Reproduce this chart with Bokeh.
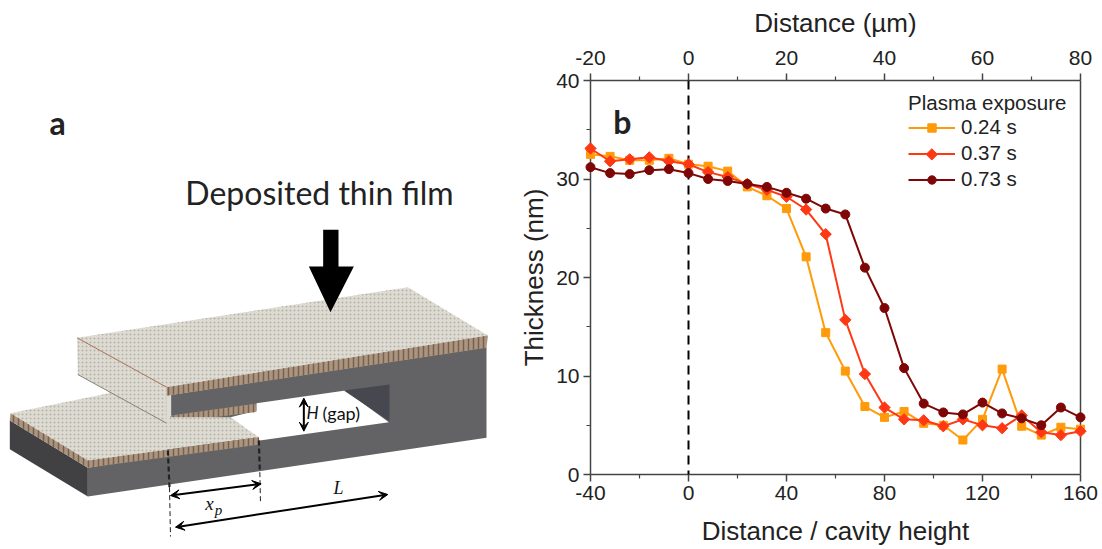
from math import pi
from bokeh.plotting import figure
from bokeh.layouts import row
from bokeh.models import (Range1d, LinearAxis, FixedTicker, Span, Label, Legend, LegendItem,
                          Arrow, VeeHead)
from bokeh.embed import file_html
from bokeh.resources import INLINE

# ---------- data ----------
distance_norm = [-40, -32, -24, -16, -8, 0, 8, 16, 24, 32, 40, 48, 56, 64, 72, 80, 88, 96, 104, 112, 120, 128, 136, 144, 152, 160]
t_024 = [32.5, 32.3, 31.9, 31.9, 32.1, 31.5, 31.3, 30.8, 29.2, 28.3, 27.0, 22.1, 14.4, 10.5, 6.9, 5.8, 6.4, 5.2, 5.0, 3.5, 5.6, 10.7, 4.9, 4.0, 4.8, 4.6]
t_037 = [33.1, 31.8, 32.0, 32.2, 31.8, 31.5, 30.7, 30.2, 29.5, 28.9, 28.2, 26.9, 24.4, 15.7, 10.2, 6.8, 5.6, 5.5, 4.9, 5.6, 5.0, 4.7, 6.0, 4.3, 4.0, 4.4]
t_073 = [31.2, 30.6, 30.5, 30.9, 31.0, 30.6, 30.0, 29.8, 29.5, 29.2, 28.6, 28.0, 27.0, 26.4, 21.0, 16.9, 10.8, 7.2, 6.3, 6.1, 7.3, 6.2, 5.7, 5.0, 6.8, 5.8]
legend_title = "Plasma exposure"
labels = ["0.24 s", "0.37 s", "0.73 s"]
bottom_ticks = [-40, 0, 40, 80, 120, 160]
bottom_minor = [-20, 20, 60, 100, 140]
top_ticks = [-20, 0, 20, 40, 60, 80]
top_minor = [-10, 10, 30, 50, 70]
left_ticks = [0, 10, 20, 30, 40]
left_minor = [5, 15, 25, 35]

SANS = "Liberation Sans"
CAL = "Lato"
INK = "#222222"

# ---------- panel a : schematic, in picture pixels ----------
a = figure(width=510, height=545, x_range=Range1d(0, 510), y_range=Range1d(545, 0),
           output_backend="svg", toolbar_location=None, min_border=0, frame_align=False,
           outline_line_color=None, background_fill_color="white", border_fill_color="white")
a.axis.visible = False
a.grid.visible = False


def Z(pts):
    return [p[0] / 3 for p in pts], [220 + p[1] / 3 for p in pts]


def poly(pts, color, **kw):
    xs, ys = Z(pts)
    a.patch(xs, ys, fill_color=color, line_color=kw.pop("line_color", None), **kw)


FACE = "#dedbd2"
BAND = "#ab9580"
GREY = "#636366"
DOTS = dict(hatch_pattern="dot", hatch_color="#b5b2a8", hatch_scale=4, hatch_weight=1.2)
STRIPES = dict(hatch_pattern="vertical_line", hatch_color="#75614e", hatch_scale=5, hatch_weight=1.5)

poly([(498, 525), (1458, 380), (1458, 652), (262, 828), (262, 742), (498, 700)], GREY)
poly([(690, 590), (768, 570), (768, 548), (1035, 510), (1165, 605), (778, 660)], "white")
poly([(1030, 510), (1167, 492), (1167, 602)], "#47474f")
poly([(512, 585), (765, 550), (768, 574), (512, 606)], BAND, **STRIPES)
poly([(28, 600), (262, 742), (262, 828), (28, 686)], "#414143")
poly([(30, 578), (325, 518), (330, 500), (500, 590), (690, 590), (775, 650), (262, 720)], FACE, **DOTS)
poly([(30, 578), (262, 720), (775, 650), (778, 672), (262, 742), (28, 600)], BAND, **STRIPES)
poly([(230, 352), (498, 500), (498, 608), (232, 462)], FACE, **DOTS)
poly([(498, 500), (512, 498), (512, 585), (498, 608)], FACE)
poly([(230, 352), (1222, 200), (1462, 345), (498, 500)], FACE, **DOTS)
poly([(498, 500), (1462, 345), (1458, 382), (498, 526)], BAND, **STRIPES)
xs, ys = Z([(230, 352), (498, 500)])
a.line(xs, ys, line_color="#a5735a", line_width=1)
xs, ys = Z([(232, 462), (498, 608)])
a.line(xs, ys, line_color="#85827a", line_width=1)
poly([(968, 28), (1014, 28), (1014, 138), (1060, 138), (990, 275), (925, 138), (968, 138)], "black")

for pts, w, dash in [
    ([(502, 690), (507, 800)], 2.2, "5 3"),
    ([(507, 800), (510, 948)], 1, "5 3"),
    ([(775, 660), (778, 755)], 2.2, "5 3"),
    ([(778, 755), (780, 850)], 1, "5 3"),
]:
    xs, ys = Z(pts)
    a.line(xs, ys, line_color="#222222", line_width=w, line_dash=dash)

for p0, p1 in [((510, 825), (782, 790)), ((525, 920), (1162, 822)), ((910, 533), (910, 632))]:
    (x0, x1), (y0, y1) = Z([p0, p1])
    a.add_layout(Arrow(x_start=x0, y_start=y0, x_end=x1, y_end=y1, line_color="black", line_width=2,
                       start=VeeHead(size=9, line_color="black", fill_color="black", line_width=1),
                       end=VeeHead(size=9, line_color="black", fill_color="black", line_width=1)))

a.add_layout(Label(x=57, y=122, text="a", text_font=CAL, text_font_style="bold", text_font_size="32px",
                   text_color="#222222", text_align="center", text_baseline="middle"))
a.add_layout(Label(x=319, y=192, text="Deposited thin film", text_font=CAL, text_font_size="32px",
                   text_color="#222222", text_align="center", text_baseline="middle"))
a.add_layout(Label(x=306, y=412, text="H", text_font=CAL, text_font_style="italic", text_font_size="17px",
                   text_color="#111111", text_align="left", text_baseline="middle"))
a.add_layout(Label(x=322, y=412, text="(gap)", text_font=CAL, text_font_size="18px",
                   text_color="#111111", text_align="left", text_baseline="middle"))
a.add_layout(Label(x=338, y=487, text="L", text_font="Liberation Serif", text_font_style="italic",
                   text_font_size="18px", text_color="#111111", text_align="center", text_baseline="middle"))
a.add_layout(Label(x=209, y=503, text="x", text_font="Liberation Serif", text_font_style="italic",
                   text_font_size="19px", text_color="#111111", text_align="center", text_baseline="middle"))
a.add_layout(Label(x=218, y=509, text="p", text_font="Liberation Serif", text_font_style="italic",
                   text_font_size="15px", text_color="#111111", text_align="center", text_baseline="middle"))

# ---------- panel b : chart ----------
p = figure(width=590, height=545, frame_width=490, frame_height=394, frame_align=False,
           x_range=Range1d(-40, 160), y_range=Range1d(0, 40),
           output_backend="svg", toolbar_location=None,
           min_border_left=80, min_border_right=20, min_border_top=80, min_border_bottom=71,
           x_axis_label="Distance / cavity height", y_axis_label="Thickness (nm)",
           background_fill_color="white", border_fill_color="white", outline_line_color=None)
p.grid.visible = False
p.extra_x_ranges["top"] = Range1d(-20, 80)
p.add_layout(LinearAxis(x_range_name="top", axis_label="Distance (µm)"), "above")
p.add_layout(LinearAxis(major_tick_line_color=None, minor_tick_line_color=None,
                        major_label_text_font_size="0px"), "right")

p.below[0].ticker = FixedTicker(ticks=bottom_ticks, minor_ticks=bottom_minor)
p.above[0].ticker = FixedTicker(ticks=top_ticks, minor_ticks=top_minor)
p.left[0].ticker = FixedTicker(ticks=left_ticks, minor_ticks=left_minor)
p.right[0].ticker = FixedTicker(ticks=[])
p.below[0].major_label_overrides = {-40: "-40"}
p.above[0].major_label_overrides = {-20: "-20"}

for ax in [p.below[0], p.above[0], p.left[0]]:
    ax.axis_line_color = "#444444"
    ax.axis_line_width = 1.5
    ax.major_tick_line_color = "#444444"
    ax.major_tick_line_width = 1.5
    ax.minor_tick_line_color = "#444444"
    ax.minor_tick_line_width = 1.2
    ax.major_tick_in = 0
    ax.major_tick_out = 7
    ax.minor_tick_in = 0
    ax.minor_tick_out = 4
    ax.major_label_text_font = SANS
    ax.major_label_text_font_size = "21px"
    ax.major_label_text_color = INK
    ax.major_label_standoff = 4
    ax.axis_label_text_font = SANS
    ax.axis_label_text_font_size = "26px"
    ax.axis_label_text_font_style = "normal"
    ax.axis_label_text_color = INK
    ax.axis_label_standoff = 6
p.left[0].axis_label_standoff = 4
p.above[0].major_label_standoff = 9
p.above[0].axis_label_standoff = 10
p.below[0].axis_label_standoff = 13
p.right[0].axis_line_color = "#444444"
p.right[0].axis_line_width = 1.5

p.add_layout(Span(location=0, dimension="height", line_color="black", line_width=2, line_dash="9 6"))

ORANGE, RED, DARK = "#FF9A0A", "#FF3814", "#7E0606"
l1 = p.line(distance_norm, t_024, line_color=ORANGE, line_width=2, level="overlay")
m1 = p.scatter(distance_norm, t_024, marker="square", size=8, fill_color=ORANGE, line_color=ORANGE, level="overlay")
l2 = p.line(distance_norm, t_037, line_color=RED, line_width=2, level="overlay")
m2 = p.scatter(distance_norm, t_037, marker="square", angle=pi / 4, size=8, fill_color=RED, line_color=RED, level="overlay")
l3 = p.line(distance_norm, t_073, line_color=DARK, line_width=2, level="overlay")
m3 = p.scatter(distance_norm, t_073, marker="circle", size=9, fill_color=DARK, line_color=DARK, level="overlay")

leg = Legend(items=[LegendItem(label=labels[0], renderers=[l1, m1]),
                    LegendItem(label=labels[1], renderers=[l2]),
                    LegendItem(label=labels[2], renderers=[l3, m3])],
             location=(318, 283), title=legend_title, title_text_font=SANS, title_text_font_size="20.5px",
             title_text_font_style="normal", title_text_color=INK, title_standoff=0,
             label_text_font=SANS, label_text_font_size="20.5px", label_text_color=INK,
             glyph_width=47, glyph_height=21, label_height=21, label_standoff=6, spacing=2,
             background_fill_alpha=0, border_line_color=None, margin=0, padding=0)
p.add_layout(leg)
# the legend cannot rotate its key, so the 0.37 s diamond key sits over its swatch
p.scatter([99.3], [32.5], marker="square", angle=pi / 4, size=8, fill_color=RED, line_color=RED, level="overlay")

p.add_layout(Label(x=-27, y=35.8, text="b", text_font=CAL, text_font_style="bold", text_font_size="32px",
                   text_color="#222222", text_align="center", text_baseline="middle"))

page = row(a, p, spacing=0)
open("out.html", "w").write(file_html(page, INLINE))
